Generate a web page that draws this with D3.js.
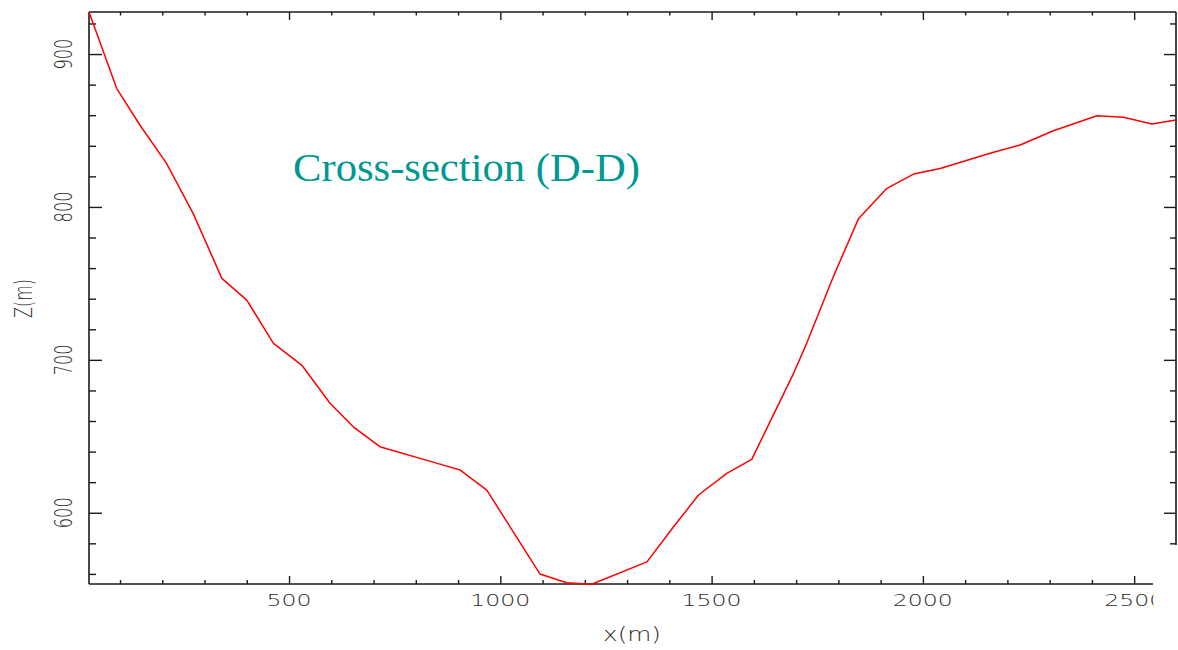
<!DOCTYPE html>
<html>
<head>
<meta charset="utf-8">
<script src="https://cdn.jsdelivr.net/npm/d3@7"></script>
<style>
  html, body { margin: 0; padding: 0; background: #fff; }
  svg { display: block; }
</style>
</head>
<body>
<svg id="chart" width="1178" height="650"></svg>
<script>
// ---- data ----
const xDist = [26.6, 92, 147, 210, 273, 341, 400, 463, 530, 597, 652, 715, 857, 905, 968, 1094, 1157, 1216, 1347, 1410, 1469, 1536, 1595, 1694, 1725, 1788, 1848, 1915, 1978, 2041, 2159, 2230, 2309, 2412, 2475, 2542, 2599];
const zElev = [927.5, 877.6, 853.6, 828.5, 795.8, 753.3, 739.1, 710.8, 696.6, 671.6, 656.2, 643.2, 631.8, 627.9, 614.8, 559.9, 554.2, 553.2, 567.9, 590.8, 611.6, 625.8, 634.9, 691.2, 710.8, 754.4, 792.5, 812.2, 821.5, 825.2, 835.1, 840.5, 849.8, 859.6, 858.6, 854.2, 856.8];
const xTickLabels = [500, 1000, 1500, 2000, 2500];
const yTickLabels = [600, 700, 800, 900];
const xMinorTicks = d3.range(100, 2600, 100);
const yMinorTicks = d3.range(560, 940, 20);
const titleText = "Cross-section (D-D)";
const xTitle = "x(m)";
const yTitle = "Z(m)";

// ---- layout ----
const L = 89, R = 1176, T = 12, B = 584;
const bottomEnd = 1153, rightEnd = 545;

const x = d3.scaleLinear().domain([26.6, 2599]).range([L, R]);
const y = d3.scaleLinear().domain([553.4, 927.5]).range([B, T]);

const svg = d3.select("#chart");
const axisColor = "#1a1a1a";
const labelColor = "#2a2a2a";
const labelFont = "DejaVu Sans ExtraLight, DejaVu Sans Light, Liberation Sans, Arial, sans-serif";

const defs = svg.append("defs");
defs.append("clipPath").attr("id", "clipBottom")
  .append("rect").attr("x", 0).attr("y", 0).attr("width", bottomEnd + 0.5).attr("height", 650);
defs.append("clipPath").attr("id", "clipRight")
  .append("rect").attr("x", 0).attr("y", 0).attr("width", 1178).attr("height", rightEnd + 1);

function styleAxis(g) {
  g.select(".domain").remove();
  g.selectAll(".tick line").attr("stroke", axisColor).attr("stroke-width", 1.4);
  g.selectAll(".tick text").remove();
}

// bottom axis
const gB = svg.append("g").attr("clip-path", "url(#clipBottom)");
gB.append("g").attr("transform", `translate(0,${B})`)
  .call(d3.axisBottom(x).tickValues(xMinorTicks.filter(v => !xTickLabels.includes(v))).tickSize(-4)).call(styleAxis);
gB.append("g").attr("transform", `translate(0,${B})`)
  .call(d3.axisBottom(x).tickValues(xTickLabels).tickSize(-8)).call(styleAxis);
gB.selectAll("text.xl").data(xTickLabels).join("text")
  .attr("class", "xl")
  .attr("x", d => x(d)).attr("y", 606)
  .attr("text-anchor", "middle")
  .attr("font-family", labelFont)
  .attr("font-size", 16.5)
  .attr("fill", labelColor)
  .attr("textLength", d => String(d).length * 15)
  .attr("lengthAdjust", "spacingAndGlyphs")
  .text(d => d);
gB.append("line").attr("x1", L).attr("x2", bottomEnd).attr("y1", B).attr("y2", B)
  .attr("stroke", axisColor).attr("stroke-width", 1.6);

// top axis
const gT = svg.append("g");
gT.append("g").attr("transform", `translate(0,${T})`)
  .call(d3.axisTop(x).tickValues(xMinorTicks.filter(v => !xTickLabels.includes(v))).tickSize(-3.5)).call(styleAxis);
gT.append("g").attr("transform", `translate(0,${T})`)
  .call(d3.axisTop(x).tickValues(xTickLabels).tickSize(-8)).call(styleAxis);
gT.append("line").attr("x1", L).attr("x2", R).attr("y1", T).attr("y2", T)
  .attr("stroke", axisColor).attr("stroke-width", 1.6);

// left axis
const gL = svg.append("g");
gL.append("g").attr("transform", `translate(${L},0)`)
  .call(d3.axisLeft(y).tickValues(yMinorTicks.filter(v => !yTickLabels.includes(v))).tickSize(-7)).call(styleAxis);
gL.append("g").attr("transform", `translate(${L},0)`)
  .call(d3.axisLeft(y).tickValues(yTickLabels).tickSize(-13)).call(styleAxis);
gL.selectAll("text.yl").data(yTickLabels).join("text")
  .attr("class", "yl")
  .attr("transform", d => `translate(71.5,${y(d)}) rotate(-90)`)
  .attr("text-anchor", "middle")
  .attr("font-family", labelFont)
  .attr("font-size", 25)
  .attr("fill", labelColor)
  .attr("textLength", 31)
  .attr("lengthAdjust", "spacingAndGlyphs")
  .text(d => d);
gL.append("line").attr("x1", L).attr("x2", L).attr("y1", T).attr("y2", B)
  .attr("stroke", axisColor).attr("stroke-width", 1.6);

// right axis
const gR = svg.append("g").attr("clip-path", "url(#clipRight)");
gR.append("g").attr("transform", `translate(${R},0)`)
  .call(d3.axisRight(y).tickValues(yMinorTicks.filter(v => !yTickLabels.includes(v))).tickSize(-6)).call(styleAxis);
gR.append("g").attr("transform", `translate(${R},0)`)
  .call(d3.axisRight(y).tickValues(yTickLabels).tickSize(-12)).call(styleAxis);
gR.append("line").attr("x1", R).attr("x2", R).attr("y1", T).attr("y2", rightEnd)
  .attr("stroke", axisColor).attr("stroke-width", 1.6);

// axis titles
svg.append("text")
  .attr("x", 632).attr("y", 641)
  .attr("text-anchor", "middle")
  .attr("font-family", labelFont)
  .attr("font-size", 19)
  .attr("fill", labelColor)
  .attr("textLength", 58)
  .attr("lengthAdjust", "spacingAndGlyphs")
  .text(xTitle);
svg.append("text")
  .attr("transform", "translate(32,298.5) rotate(-90)")
  .attr("text-anchor", "middle")
  .attr("font-family", labelFont)
  .attr("font-size", 25)
  .attr("fill", labelColor)
  .attr("textLength", 39)
  .attr("lengthAdjust", "spacingAndGlyphs")
  .text(yTitle);

// profile line
const pts = xDist.map((d, i) => [d, zElev[i]]);
svg.append("path")
  .datum(pts)
  .attr("fill", "none")
  .attr("stroke", "#ff0000")
  .attr("stroke-width", 1.5)
  .attr("stroke-linejoin", "round")
  .attr("d", d3.line().x(d => x(d[0])).y(d => y(d[1])));

// title
svg.append("text")
  .attr("x", 293).attr("y", 180.5)
  .attr("font-family", "Liberation Serif, Times New Roman, serif")
  .attr("font-size", 40)
  .attr("fill", "#009892")
  .attr("textLength", 347)
  .attr("lengthAdjust", "spacingAndGlyphs")
  .text(titleText);
</script>
</body>
</html>
